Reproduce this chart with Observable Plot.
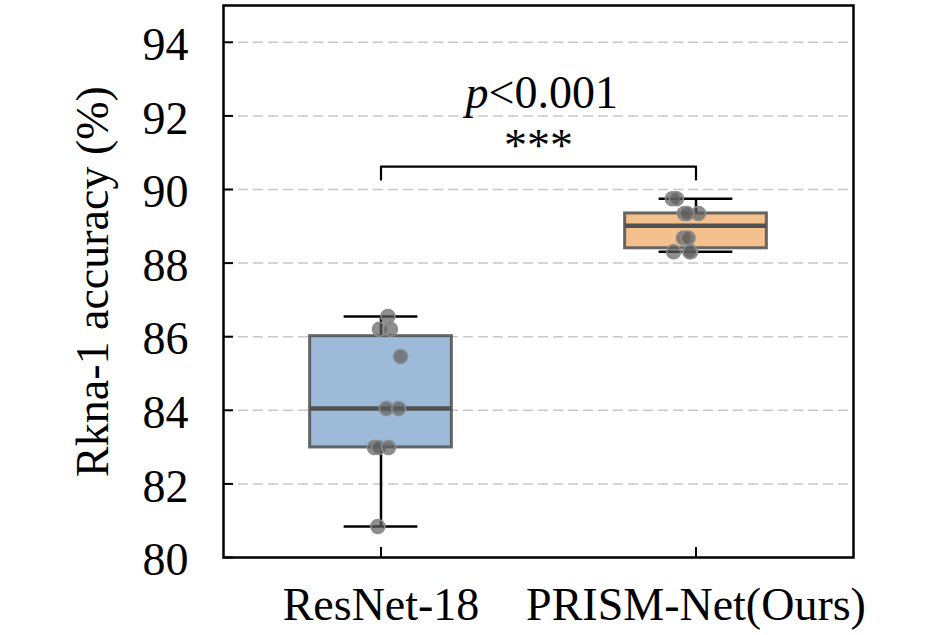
<!DOCTYPE html>
<html>
<head>
<meta charset="utf-8">
<script src="https://cdn.jsdelivr.net/npm/d3@7"></script>
<script src="https://cdn.jsdelivr.net/npm/@observablehq/plot@0.6"></script>
<style>
  html, body { margin: 0; padding: 0; background: white; }
</style>
</head>
<body>
<div id="chart"></div>
<script>
// ---- data ----
const categories = ["ResNet-18", "PRISM-Net(Ours)"];
const resnetValues = [86.55, 86.2, 86.2, 85.46, 84.05, 84.05, 82.99, 82.99, 82.99, 80.84];
const prismValues  = [89.75, 89.75, 89.35, 89.35, 89.35, 88.68, 88.68, 88.31, 88.31, 88.31];
// strip-plot jitter (fraction of one category slot)
const resnetJitter = [0.022, -0.005, 0.030, 0.062, 0.017, 0.056, -0.021, -0.008, 0.024, -0.010];
const prismJitter  = [-0.075, -0.062, -0.037, 0.008, -0.029, -0.040, -0.025, -0.071, -0.017, -0.020];
const yTicks = [80, 82, 84, 86, 88, 90, 92, 94];
const yLabel = "Rkna-1 accuracy (%)";
const pLabelItalic = "p";
const pLabelRest = "<0.001";
const starsLabel = "***";

// ---- styles ----
const palette = ["#9dbad9", "#f3c08e"];
const boxHalf = 0.225, capHalf = 0.117;

const series = [resnetValues, prismValues];
const jitters = [resnetJitter, prismJitter];

const stats = categories.map((name, i) => {
  const s = series[i].slice().sort(d3.ascending);
  return {
    name, c: i + 0.5,
    min: s[0], max: s[s.length - 1],
    q1: d3.quantile(s, 0.25), med: d3.quantile(s, 0.5), q3: d3.quantile(s, 0.75)
  };
});
const points = categories.flatMap((name, i) =>
  series[i].map((v, j) => ({name, x: i + 0.5 + jitters[i][j], y: v})));

const yMax = d3.max(points, d => d.y);
const bracketLow = yMax + 0.52, bracketHigh = yMax + 0.87;
const bracket = [
  {x: stats[0].c, y: bracketLow}, {x: stats[0].c, y: bracketHigh},
  {x: stats[1].c, y: bracketHigh}, {x: stats[1].c, y: bracketLow}
];
const midX = (stats[0].c + stats[1].c) / 2;

const chart = Plot.plot({
  width: 945, height: 635,
  marginLeft: 223, marginRight: 92, marginTop: 5, marginBottom: 78,
  style: {fontFamily: "'Liberation Serif', serif", fontSize: "46px", background: "white", color: "black"},
  x: {domain: [0, 2]},
  y: {domain: [80, 95], label: null},
  color: {domain: categories, range: palette},
  marks: [
    Plot.ruleY(yTicks.filter(t => t > 80), {stroke: "#c8c8c8", strokeWidth: 1.5, strokeDasharray: "10,5"}),
    // whiskers
    Plot.ruleX(stats, {x: "c", y1: "min", y2: "max", stroke: "black", strokeWidth: 2.5}),
    Plot.ruleY(stats, {y: "min", x1: d => d.c - capHalf, x2: d => d.c + capHalf, stroke: "black", strokeWidth: 2.5}),
    Plot.ruleY(stats, {y: "max", x1: d => d.c - capHalf, x2: d => d.c + capHalf, stroke: "black", strokeWidth: 2.5}),
    // boxes
    Plot.rect(stats, {x1: d => d.c - boxHalf, x2: d => d.c + boxHalf, y1: "q1", y2: "q3", fill: "name", stroke: "#4d4d4d", strokeWidth: 3, strokeOpacity: 0.85}),
    Plot.ruleY(stats, {y: "med", x1: d => d.c - boxHalf, x2: d => d.c + boxHalf, stroke: "#505050", strokeWidth: 4.5}),
    // points
    Plot.dot(points, {x: "x", y: "y", r: 7, fill: "#5e5e5e", fillOpacity: 0.7, stroke: "#8c8c8c", strokeWidth: 1.5}),
    // significance bracket
    Plot.line(bracket, {x: "x", y: "y", stroke: "black", strokeWidth: 2.2}),
    Plot.text([starsLabel], {x: midX, y: bracketHigh + 0.55, text: d => d, fontSize: 46}),
    Plot.text([pLabelItalic], {x: midX, y: bracketHigh + 2.0, text: d => d, textAnchor: "end", dx: -50, fontStyle: "italic", fontSize: 46}),
    Plot.text([pLabelRest], {x: midX, y: bracketHigh + 2.0, text: d => d, textAnchor: "start", dx: -50, fontSize: 46}),
    Plot.frame({stroke: "black", strokeWidth: 2.5}),
    // inward tick marks
    Plot.axisY({ticks: yTicks, tickSize: -10, strokeWidth: 2, tickFormat: () => "", label: null}),
    // tick labels + axis title
    Plot.axisY({ticks: yTicks, tickSize: 0, tickPadding: 35, dy: 3,
      label: yLabel, labelAnchor: "center", labelOffset: 148, labelArrow: "none"}),
    Plot.axisX({ticks: stats.map(d => d.c), tickFormat: () => "", tickSize: -10, strokeWidth: 2, label: null}),
    Plot.axisX({ticks: stats.map(d => d.c), tickFormat: v => categories[Math.floor(v)], tickSize: 0, tickPadding: 30, label: null})
  ]
});
document.getElementById("chart").appendChild(chart);
</script>
</body>
</html>
